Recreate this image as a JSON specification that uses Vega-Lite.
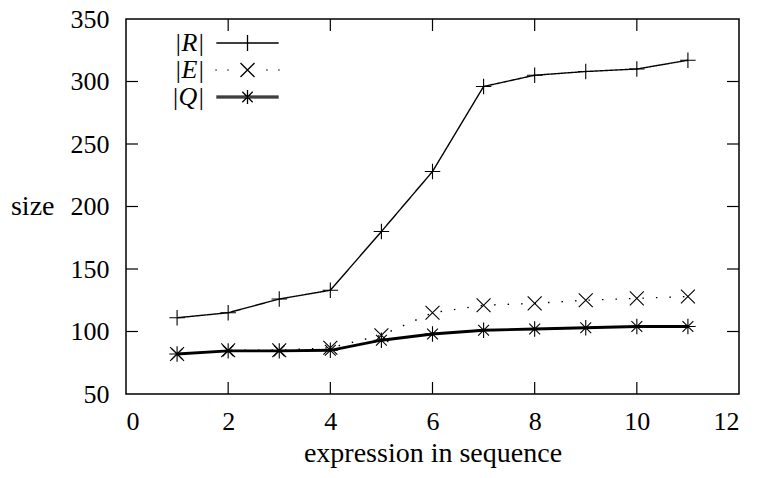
{
  "$schema": "https://vega.github.io/schema/vega-lite/v6.json",
  "width": 613,
  "height": 375,
  "autosize": {"type": "none"},
  "padding": {"left": 126, "top": 19, "right": 19, "bottom": 84},
  "background": "white",
  "config": {
    "view": {"stroke": "black", "strokeWidth": 1.5},
    "font": "Liberation Serif",
    "axis": {
      "grid": false,
      "domain": false,
      "ticks": false,
      "tickSize": 0,
      "labelFont": "Liberation Serif",
      "labelFontSize": 26,
      "labelColor": "black",
      "titleFont": "Liberation Serif",
      "titleFontSize": 28,
      "titleFontWeight": "normal",
      "titleColor": "black"
    }
  },
  "datasets": {
    "main": [
      {"x": 1, "series": "R", "value": 111},
      {"x": 2, "series": "R", "value": 115},
      {"x": 3, "series": "R", "value": 126},
      {"x": 4, "series": "R", "value": 133},
      {"x": 5, "series": "R", "value": 180},
      {"x": 6, "series": "R", "value": 228},
      {"x": 7, "series": "R", "value": 296},
      {"x": 8, "series": "R", "value": 305},
      {"x": 9, "series": "R", "value": 308},
      {"x": 10, "series": "R", "value": 310},
      {"x": 11, "series": "R", "value": 317},
      {"x": 1, "series": "E", "value": 82},
      {"x": 2, "series": "E", "value": 85},
      {"x": 3, "series": "E", "value": 85},
      {"x": 4, "series": "E", "value": 87},
      {"x": 5, "series": "E", "value": 97},
      {"x": 6, "series": "E", "value": 115},
      {"x": 7, "series": "E", "value": 121},
      {"x": 8, "series": "E", "value": 122.5},
      {"x": 9, "series": "E", "value": 125},
      {"x": 10, "series": "E", "value": 126.5},
      {"x": 11, "series": "E", "value": 128},
      {"x": 1, "series": "Q", "value": 82},
      {"x": 2, "series": "Q", "value": 84.5},
      {"x": 3, "series": "Q", "value": 84.5},
      {"x": 4, "series": "Q", "value": 85},
      {"x": 5, "series": "Q", "value": 93},
      {"x": 6, "series": "Q", "value": 98},
      {"x": 7, "series": "Q", "value": 101},
      {"x": 8, "series": "Q", "value": 102},
      {"x": 9, "series": "Q", "value": 103},
      {"x": 10, "series": "Q", "value": 104},
      {"x": 11, "series": "Q", "value": 104}
    ],
    "xticks": [{"t": 2}, {"t": 4}, {"t": 6}, {"t": 8}, {"t": 10}],
    "yticks": [{"t": 100}, {"t": 150}, {"t": 200}, {"t": 250}, {"t": 300}]
  },
  "layer": [
    {
      "data": {"name": "main"},
      "transform": [{"filter": "datum.series != 'Q'"}],
      "mark": {"type": "line", "color": "black", "strokeWidth": 1.4},
      "encoding": {
        "x": {
          "field": "x", "type": "quantitative",
          "scale": {"domain": [0, 12], "nice": false, "zero": false},
          "axis": {"orient": "bottom", "values": [0, 2, 4, 6, 8, 10, 12], "labelPadding": 14, "title": "expression in sequence", "titlePadding": 5}
        },
        "y": {
          "field": "value", "type": "quantitative",
          "scale": {"domain": [50, 350], "nice": false, "zero": false},
          "axis": {"orient": "left", "values": [50, 100, 150, 200, 250, 300, 350], "labelPadding": 17, "title": "size", "titleAngle": 0, "titleAlign": "right", "titleBaseline": "middle", "titleX": -72, "titleY": 187.5}
        },
        "strokeDash": {
          "field": "series", "type": "nominal",
          "scale": {"domain": ["R", "E"], "range": [[1, 0], [1.5, 12]]},
          "legend": null
        }
      }
    },
    {
      "data": {"name": "main"},
      "transform": [{"filter": "datum.series == 'Q'"}],
      "mark": {"type": "line", "color": "black", "strokeWidth": 2.8},
      "encoding": {
        "x": {"field": "x", "type": "quantitative"},
        "y": {"field": "value", "type": "quantitative"}
      }
    },
    {
      "data": {"name": "main"},
      "mark": {"type": "point", "filled": false, "color": "black", "strokeWidth": 1.1, "size": 240, "opacity": 1},
      "encoding": {
        "x": {"field": "x", "type": "quantitative"},
        "y": {"field": "value", "type": "quantitative"},
        "shape": {
          "field": "series", "type": "nominal",
          "scale": {"domain": ["R", "E", "Q"], "range": ["M-1,0H1M0,-1V1", "M-0.9,-0.9L0.9,0.9M-0.9,0.9L0.9,-0.9", "M-1,0H1M0,-1V1M-0.7,-0.7L0.7,0.7M-0.7,0.7L0.7,-0.7"]},
          "legend": null
        }
      }
    },
    {
      "data": {"name": "xticks"},
      "mark": {"type": "rule", "color": "black", "strokeWidth": 1.2},
      "encoding": {
        "x": {"field": "t", "type": "quantitative"},
        "y": {"datum": 50, "type": "quantitative"},
        "y2": {"datum": 59.6}
      }
    },
    {
      "data": {"name": "xticks"},
      "mark": {"type": "rule", "color": "black", "strokeWidth": 1.2},
      "encoding": {
        "x": {"field": "t", "type": "quantitative"},
        "y": {"datum": 350, "type": "quantitative"},
        "y2": {"datum": 340.4}
      }
    },
    {
      "data": {"name": "yticks"},
      "mark": {"type": "rule", "color": "black", "strokeWidth": 1.2},
      "encoding": {
        "y": {"field": "t", "type": "quantitative"},
        "x": {"datum": 0, "type": "quantitative"},
        "x2": {"datum": 0.235}
      }
    },
    {
      "data": {"name": "yticks"},
      "mark": {"type": "rule", "color": "black", "strokeWidth": 1.2},
      "encoding": {
        "y": {"field": "t", "type": "quantitative"},
        "x": {"datum": 12, "type": "quantitative"},
        "x2": {"datum": 11.765}
      }
    },
    {
      "data": {"name": "main"},
      "transform": [{"filter": "datum.x < 0"}],
      "mark": {"type": "point", "filled": false, "color": "black", "opacity": 1},
      "encoding": {
        "x": {"field": "x", "type": "quantitative"},
        "y": {"field": "value", "type": "quantitative"},
        "shape": {
          "field": "series", "type": "nominal",
          "scale": {"domain": ["R", "E", "Q"], "range": [
            "M-2.4,0H2.4M0,-0.62V0.62",
            "M-2.46,0h0.08M-1.54,0h0.08M1.46,0h0.08M2.38,0h0.08M-0.54,-0.54L0.54,0.54M-0.54,0.54L0.54,-0.54",
            "M-2.4,-0.06H2.4M-2.4,0.06H2.4M0,-0.54V0.54M-0.4,-0.4L0.4,0.4M-0.4,0.4L0.4,-0.4"
          ]},
          "legend": {
            "orient": "none", "legendX": 89, "legendY": 10, "title": null, "padding": 0,
            "symbolSize": 676, "symbolStrokeWidth": 1.3, "symbolStrokeColor": "black", "symbolOpacity": 1,
            "symbolOffset": 18.5,
            "rowPadding": 0, "labelOffset": -57, "labelAlign": "right", "labelLimit": 200,
            "labelFont": "Liberation Serif", "labelFontStyle": "italic", "labelFontSize": 26, "labelColor": "black",
            "labelExpr": "'|' + datum.label + '|'"
          }
        }
      }
    }
  ],
  "resolve": {"scale": {"shape": "independent"}}
}
